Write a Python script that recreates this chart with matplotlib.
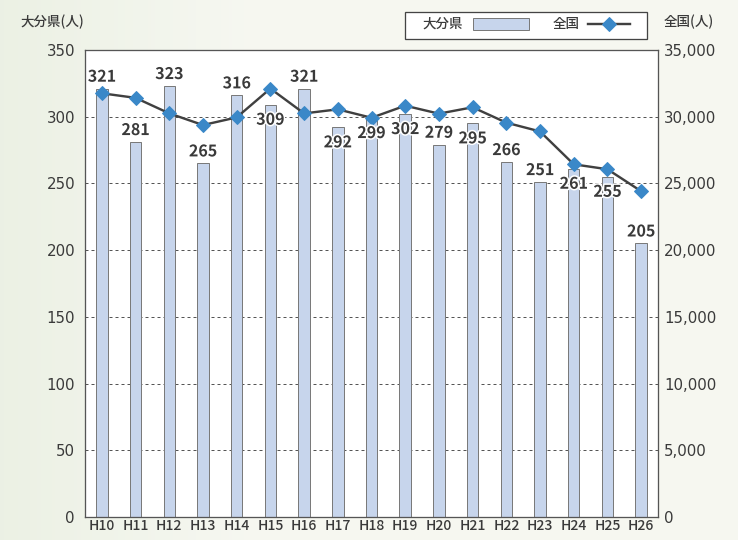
import numpy as np
import matplotlib.pyplot as plt
import matplotlib.patheffects as pe
from matplotlib.lines import Line2D
from matplotlib.patches import Rectangle
from matplotlib.ticker import FuncFormatter

plt.rcParams['font.family'] = ['Noto Sans CJK JP', 'DejaVu Sans']

# data
years = ['H10', 'H11', 'H12', 'H13', 'H14', 'H15', 'H16', 'H17', 'H18',
         'H19', 'H20', 'H21', 'H22', 'H23', 'H24', 'H25', 'H26']
oita = [321, 281, 323, 265, 316, 309, 321, 292, 299,
        302, 279, 295, 266, 251, 261, 255, 205]
zenkoku = [31755, 31413, 30251, 29375, 29949, 32109, 30247, 30553, 29921,
           30827, 30229, 30707, 29554, 28896, 26433, 26063, 24417]

# label placement: 1 = above bar top, -1 = just inside below the top
label_side = [1, 1, 1, 1, 1, -1, 1, -1, -1, -1, 1, -1, 1, 1, -1, -1, 1]

text_col = '#3a3a3a'
bar_col = '#c7d5ec'
line_col = '#404040'
mark_col = '#3a88c8'

fig = plt.figure(figsize=(738 / 72, 540 / 72), dpi=72)

# soft greenish background
bg = fig.add_axes([0, 0, 1, 1], zorder=-10)
xs = np.linspace(0, 1, 200)
t = np.clip(xs * 3, 0, 1)
r = 0.925 + 0.04 * t
g = 0.945 + 0.025 * t
b = 0.895 + 0.05 * t
grad = np.dstack([np.tile(r, (2, 1)), np.tile(g, (2, 1)), np.tile(b, (2, 1))])
bg.imshow(grad, aspect='auto', extent=[0, 1, 0, 1])
bg.axis('off')

ax = fig.add_axes([85 / 738, 1 - 517 / 540, 573 / 738, 467 / 540])
ax.set_facecolor('white')
x = np.arange(len(years))
ax.bar(x, oita, width=0.34, color=bar_col, edgecolor='#7a7a7a', linewidth=1.0, zorder=2)
ax.set_xlim(-0.5, len(years) - 0.5)
ax.set_ylim(0, 350)
ax.set_yticks(range(0, 351, 50))
ax.set_xticks(x)
ax.set_xticklabels(years, fontsize=14, fontweight='medium')
for yv in range(50, 350, 50):
    ax.axhline(yv, color='#555555', linestyle=(0, (3, 3)), linewidth=1.0, zorder=1)

ax.tick_params(axis='y', length=0, pad=10, labelcolor=text_col)
ax.tick_params(axis='x', length=0, pad=2, labelcolor=text_col)
for lab in ax.get_yticklabels():
    lab.set_fontfamily('DejaVu Sans')
    lab.set_fontsize(15)
for s in ax.spines.values():
    s.set_color('#555555')
    s.set_linewidth(1.3)

ax2 = ax.twinx()
ax2.plot(x, zenkoku, color=line_col, linewidth=2.4, marker='D', markersize=10,
         markerfacecolor=mark_col, markeredgecolor=mark_col, zorder=5)
ax2.set_ylim(0, 35000)
ax2.set_yticks(range(0, 35001, 5000))
ax2.yaxis.set_major_formatter(FuncFormatter(lambda v, p: f'{int(v):,}'))
ax2.tick_params(axis='y', length=0, pad=6, labelcolor=text_col)
for lab in ax2.get_yticklabels():
    lab.set_fontfamily('DejaVu Sans')
    lab.set_fontsize(15)
for s in ax2.spines.values():
    s.set_visible(False)

# bar value labels, drawn on top
for i, v in enumerate(oita):
    ys = v * 35000 / 350
    off = 12 if label_side[i] > 0 else -15
    ax2.annotate(str(v), (i, ys), xytext=(0, off), textcoords='offset points',
                 ha='center', va='center', fontsize=16, fontweight='bold',
                 color=text_col, zorder=6,
                 path_effects=[pe.withStroke(linewidth=3, foreground='white')])

# axis titles
fig.text(20 / 738, 1 - 22 / 540, '大分県(人)', fontsize=13.5, fontweight='medium',
         color=text_col, ha='left', va='center')
fig.text(664 / 738, 1 - 22 / 540, '全国(人)', fontsize=13.5, fontweight='medium',
         color=text_col, ha='left', va='center')

# legend box
fig.patches.append(Rectangle((405 / 738, 1 - 39 / 540), 242 / 738, 27 / 540,
                             transform=fig.transFigure, facecolor='white',
                             edgecolor='#444444', linewidth=1.3))
fig.text(422 / 738, 1 - 24 / 540, '大分県', fontsize=13.5, fontweight='medium',
         color=text_col, ha='left', va='center')
fig.patches.append(Rectangle((473 / 738, 1 - 30 / 540), 56 / 738, 12 / 540,
                             transform=fig.transFigure, facecolor=bar_col,
                             edgecolor='#7a7a7a', linewidth=1.0))
fig.text(553 / 738, 1 - 24 / 540, '全国', fontsize=13.5, fontweight='medium',
         color=text_col, ha='left', va='center')
fig.lines.append(Line2D([588 / 738, 630 / 738], [1 - 24 / 540, 1 - 24 / 540],
                        transform=fig.transFigure, color=line_col, linewidth=2.4))
fig.lines.append(Line2D([609 / 738], [1 - 24 / 540], transform=fig.transFigure,
                        marker='D', markersize=10, color=mark_col))

fig.savefig('out.png', dpi=72)
